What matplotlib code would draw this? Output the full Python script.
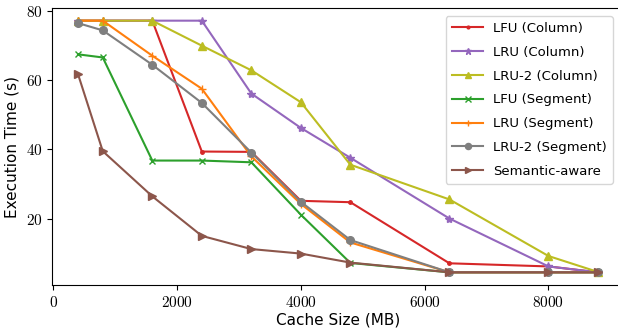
import matplotlib
matplotlib.use("Agg")
import matplotlib.pyplot as plt
from matplotlib.ticker import FuncFormatter

plt.rcParams['mathtext.fontset'] = 'cm'
plt.rcParams['font.family'] = ['DejaVu Sans']

cache_sizes = [400, 800, 1600, 2400, 3200, 4000, 4800, 6400, 8000, 8800]

lfu_column = [77.1, 77.1, 77.1, 39.4, 39.3, 25.2, 24.8, 7.2, 6.3, 4.6]
lru_column = [77.1, 77.1, 77.1, 77.1, 56.1, 46.2, 37.6, 20.1, 6.3, 4.6]
lru2_column = [77.1, 77.1, 77.1, 69.9, 62.8, 53.6, 35.6, 25.6, 9.3, 4.7]
lfu_segment = [67.4, 66.5, 36.8, 36.8, 36.3, 21.2, 7.3, 4.6, 4.6, 4.6]
lru_segment = [77.1, 77.1, 67.0, 57.5, 38.0, 24.3, 13.2, 4.6, 4.6, 4.6]
lru2_segment = [76.4, 74.3, 64.4, 53.4, 39.1, 24.9, 13.9, 4.6, 4.6, 4.6]
semantic_aware = [61.7, 39.5, 26.5, 15.1, 11.3, 10.0, 7.4, 4.6, 4.6, 4.6]

series = [
    ("LFU (Column)", lfu_column, "#d62728", ".", 5),
    ("LRU (Column)", lru_column, "#9467bd", "*", 6),
    ("LRU-2 (Column)", lru2_column, "#bcbd22", "^", 6),
    ("LFU (Segment)", lfu_segment, "#2ca02c", "x", 5),
    ("LRU (Segment)", lru_segment, "#ff7f0e", "+", 6),
    ("LRU-2 (Segment)", lru2_segment, "#7f7f7f", "o", 5.5),
    ("Semantic-aware", semantic_aware, "#8c564b", ">", 5.5),
]

fig = plt.figure(figsize=(6.18, 3.33), dpi=100)
ax = fig.add_axes([52/618, 48/333, (624-52)/618, (285-8)/333])

for label, vals, color, marker, ms in series:
    ax.plot(cache_sizes, vals, color=color, marker=marker, label=label,
            linewidth=1.5, markersize=ms)

ax.set_xlim(-20, 9220)
ax.set_ylim(0.95, 80.75)
ax.set_xticks([0, 2000, 4000, 6000, 8000])
ax.set_yticks([20, 40, 60, 80])
fmt = FuncFormatter(lambda v, p: r'$%d$' % v)
ax.xaxis.set_major_formatter(fmt)
ax.yaxis.set_major_formatter(fmt)
ax.tick_params(labelsize=11)
ax.set_xlabel("Cache Size (MB)", fontsize=11, labelpad=2)
ax.set_ylabel("Execution Time (s)", fontsize=11, labelpad=4)

leg = ax.legend(loc='upper right', fontsize=9.5, framealpha=0.8,
                handlelength=2.4, handletextpad=0.75, borderpad=0.45,
                labelspacing=0.82, markerscale=0.8, borderaxespad=0,
                bbox_to_anchor=(613/618, 1 - 16/333),
                bbox_transform=fig.transFigure)

fig.savefig("out.png", dpi=100)
